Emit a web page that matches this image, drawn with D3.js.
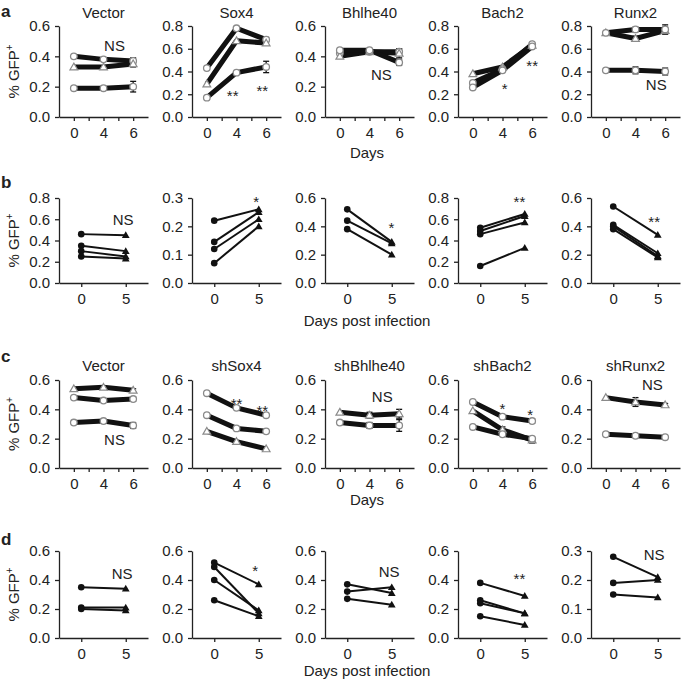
<!DOCTYPE html>
<html><head><meta charset="utf-8">
<script src="https://cdn.jsdelivr.net/npm/d3@7"></script>
<style>
body{margin:0;background:#fff}
svg{display:block}
text{font-family:"Liberation Sans",Arial,Helvetica,sans-serif;fill:#222}
</style>
</head><body>
<svg id="chart" width="685" height="682"></svg>
<script>
// ---------------- DATA ----------------
const daysTime = ["0", "4", "6"];
const daysInfection = ["0", "5"];
const titlesA = ["Vector", "Sox4", "Bhlhe40", "Bach2", "Runx2"];
const titlesC = ["Vector", "shSox4", "shBhlhe40", "shBach2", "shRunx2"];
const yMaxA = [0.6, 0.8, 0.6, 0.8, 0.8];
const yMaxB = [0.8, 0.3, 0.6, 0.8, 0.6];
const yMaxC = [0.6, 0.6, 0.6, 0.6, 0.6];
const yMaxD = [0.6, 0.6, 0.6, 0.6, 0.3];

// row a: overexpression, time course (mean, error)
const aVector  = [{mk:"circle",   v:[0.40,0.38,0.37], e:[0,0,0.02]},
                  {mk:"triangle", v:[0.33,0.33,0.35], e:[0,0,0.02]},
                  {mk:"circle",   v:[0.19,0.19,0.20], e:[0,0,0.035]}];
const aSox4    = [{mk:"circle",   v:[0.43,0.78,0.68], e:[0,0,0.02]},
                  {mk:"triangle", v:[0.29,0.67,0.65], e:[0,0,0.02]},
                  {mk:"circle",   v:[0.17,0.39,0.44], e:[0,0,0.05]}];
const aBhlhe40 = [{mk:"circle",   v:[0.42,0.43,0.43], e:[0,0,0.02]},
                  {mk:"triangle", v:[0.40,0.43,0.42], e:[0,0,0.03]},
                  {mk:"circle",   v:[0.44,0.44,0.36], e:[0,0,0.02]}];
const aBach2   = [{mk:"triangle", v:[0.38,0.44,0.63], e:[0,0,0]},
                  {mk:"circle",   v:[0.30,0.42,0.64], e:[0,0,0]},
                  {mk:"circle",   v:[0.26,0.41,0.62], e:[0,0,0]}];
const aRunx2   = [{mk:"triangle", v:[0.74,0.69,0.76], e:[0,0.02,0.03]},
                  {mk:"circle",   v:[0.74,0.77,0.77], e:[0,0.02,0.04]},
                  {mk:"circle",   v:[0.41,0.41,0.40], e:[0.01,0.03,0.03]}];

// row b: overexpression, day 0 vs day 5 post infection
const bVector  = [[0.46,0.45],[0.35,0.30],[0.30,0.25],[0.25,0.23]];
const bSox4    = [[0.22,0.26],[0.145,0.25],[0.12,0.225],[0.07,0.20]];
const bBhlhe40 = [[0.52,0.29],[0.44,0.28],[0.38,0.20]];
const bBach2   = [[0.52,0.65],[0.49,0.63],[0.46,0.57],[0.16,0.33]];
const bRunx2   = [[0.54,0.34],[0.41,0.21],[0.40,0.19],[0.38,0.18]];

// row c: knockdown, time course
const cVector  = [{mk:"triangle", v:[0.54,0.55,0.53], e:[0,0.01,0.01]},
                  {mk:"circle",   v:[0.48,0.46,0.47], e:[0,0,0.015]},
                  {mk:"circle",   v:[0.31,0.32,0.29], e:[0,0,0.02]}];
const cSox4    = [{mk:"circle",   v:[0.51,0.41,0.36], e:[0,0,0]},
                  {mk:"circle",   v:[0.36,0.27,0.25], e:[0,0,0]},
                  {mk:"triangle", v:[0.25,0.18,0.13], e:[0,0,0]}];
const cBhlhe40 = [{mk:"triangle", v:[0.38,0.36,0.37], e:[0,0.02,0.03]},
                  {mk:"circle",   v:[0.31,0.29,0.29], e:[0,0.02,0.04]}];
const cBach2   = [{mk:"circle",   v:[0.45,0.35,0.32], e:[0,0,0.015]},
                  {mk:"triangle", v:[0.39,0.26,0.19], e:[0,0.02,0.02]},
                  {mk:"circle",   v:[0.28,0.23,0.20], e:[0,0,0]}];
const cRunx2   = [{mk:"triangle", v:[0.48,0.45,0.43], e:[0,0.03,0.01]},
                  {mk:"circle",   v:[0.23,0.22,0.21], e:[0,0,0]}];

// row d: knockdown, day 0 vs day 5 post infection
const dVector  = [[0.35,0.34],[0.21,0.21],[0.20,0.19]];
const dSox4    = [[0.52,0.37],[0.49,0.17],[0.40,0.19],[0.26,0.15]];
const dBhlhe40 = [[0.37,0.31],[0.32,0.35],[0.27,0.23]];
const dBach2   = [[0.38,0.29],[0.26,0.17],[0.24,0.17],[0.15,0.09]];
const dRunx2   = [[0.28,0.21],[0.19,0.20],[0.15,0.14]];

// significance labels: [text, x (category index), y (value at baseline)]
const sigA = [[["NS",1.37,0.435]], [["**",0.87,0.144],["**",1.87,0.188]], [["NS",1.4,0.241]],
              [["*",1.07,0.206],["**",2.0,0.408]], [["NS",1.7,0.234]]];
const sigB = [[["NS",0.94,0.542]], [["*",0.94,0.27]], [["*",0.99,0.356]], [["**",0.88,0.719]], [["**",0.92,0.398]]];
const sigC = [[["NS",1.37,0.154]], [["**",1.0,0.405],["**",1.87,0.357]], [["NS",1.43,0.447]],
              [["*",1.0,0.371],["*",1.93,0.33]], [["NS",1.57,0.529]]];
const sigD = [[["NS",0.92,0.404]], [["*",0.92,0.43]], [["NS",0.94,0.418]], [["**",0.88,0.375]], [["NS",0.92,0.268]]];

// ---------------- LAYOUT ----------------
const svg = d3.select("#chart");
const LEFTS = [59, 192, 325, 458, 591];
const PW = 89;
const FS = 15;

const rows = [
  {letter:"a", letterY:16.5, top:26, bottom:117, cats:daysTime, thick:true,
   data:[aVector,aSox4,aBhlhe40,aBach2,aRunx2], ymax:yMaxA, sig:sigA, titles:titlesA, titleY:17.5,
   xlabel:"Days", xlabelY:157.5},
  {letter:"b", letterY:188, top:198, bottom:283, cats:daysInfection, thick:false,
   data:[bVector,bSox4,bBhlhe40,bBach2,bRunx2], ymax:yMaxB, sig:sigB, titles:null,
   xlabel:"Days post infection", xlabelY:326},
  {letter:"c", letterY:362, top:380, bottom:468, cats:daysTime, thick:true,
   data:[cVector,cSox4,cBhlhe40,cBach2,cRunx2], ymax:yMaxC, sig:sigC, titles:titlesC, titleY:370.5,
   xlabel:"Days", xlabelY:505},
  {letter:"d", letterY:545, top:551, bottom:638, cats:daysInfection, thick:false,
   data:[dVector,dSox4,dBhlhe40,dBach2,dRunx2], ymax:yMaxD, sig:sigD, titles:null,
   xlabel:"Days post infection", xlabelY:676}
];

const tri = d3.symbol().type(d3.symbolTriangle);

rows.forEach(row => {
  svg.append("text").attr("x", 1).attr("y", row.letterY)
    .attr("font-size", 17).attr("font-weight", "bold").attr("fill", "#111").text(row.letter);
  const yl = svg.append("text")
    .attr("transform", `translate(19,${(row.top + row.bottom) / 2}) rotate(-90)`)
    .attr("text-anchor", "middle").attr("font-size", FS);
  yl.append("tspan").text("% GFP");
  yl.append("tspan").attr("font-size", 10).attr("dy", -6).text("+");
  svg.append("text").attr("x", 367).attr("y", row.xlabelY).attr("text-anchor", "middle")
    .attr("font-size", FS).text(row.xlabel);

  const n = row.cats.length;
  row.data.forEach((series, pi) => {
    const left = LEFTS[pi];
    const x = d3.scaleLinear().domain([-0.5, n - 0.5]).range([left, left + PW]);
    const ymax = row.ymax[pi];
    const step = ymax < 0.35 ? 0.1 : 0.2;
    const y = d3.scaleLinear().domain([0, ymax]).range([row.bottom, row.top]);
    const g = svg.append("g");

    const yTicks = d3.range(0, ymax + 1e-9, step);
    const yAxis = d3.axisLeft(y).tickValues(yTicks).tickFormat(d3.format(".1f"))
      .tickSize(4).tickPadding(5).tickSizeOuter(0);
    const xTickVals = n === 3 ? [0, 0.5, 1, 1.5, 2] : [0, 1];
    const xAxis = d3.axisBottom(x).tickValues(xTickVals)
      .tickFormat(d => Number.isInteger(d) ? row.cats[d] : "")
      .tickSize(4).tickPadding(6).tickSizeOuter(0);
    const ya = g.append("g").attr("transform", `translate(${left},0)`).call(yAxis);
    const xa = g.append("g").attr("transform", `translate(0,${row.bottom})`).call(xAxis);
    [ya, xa].forEach(a => {
      a.selectAll("path,line").attr("stroke", "#222").attr("stroke-width", 1.3);
      a.selectAll("text").attr("font-size", FS).attr("fill", "#222")
        .attr("font-family", '"Liberation Sans",Arial,sans-serif');
    });

    if (row.titles) {
      svg.append("text").attr("x", left + PW / 2).attr("y", row.titleY)
        .attr("text-anchor", "middle").attr("font-size", FS).text(row.titles[pi]);
    }

    if (row.thick) {
      const line = d3.line().x((d, i) => x(i)).y(d => y(d));
      series.forEach(s => {
        s.v.forEach((v, i) => {
          if (s.e[i] > 0) {
            const eb = g.append("g").attr("stroke", "#111").attr("stroke-width", 1.3);
            eb.append("line").attr("x1", x(i)).attr("x2", x(i)).attr("y1", y(v - s.e[i])).attr("y2", y(v + s.e[i]));
            eb.append("line").attr("x1", x(i) - 3).attr("x2", x(i) + 3).attr("y1", y(v - s.e[i])).attr("y2", y(v - s.e[i]));
            eb.append("line").attr("x1", x(i) - 3).attr("x2", x(i) + 3).attr("y1", y(v + s.e[i])).attr("y2", y(v + s.e[i]));
          }
        });
      });
      series.forEach(s => {
        g.append("path").datum(s.v).attr("d", line).attr("fill", "none")
          .attr("stroke", "#111").attr("stroke-width", 5).attr("stroke-linejoin", "round");
      });
      series.forEach(s => {
        s.v.forEach((v, i) => {
          if (s.mk === "circle") {
            g.append("circle").attr("cx", x(i)).attr("cy", y(v)).attr("r", 3.3)
              .attr("fill", "#fff").attr("stroke", "#8a8a8a").attr("stroke-width", 1.3);
          } else {
            g.append("path").attr("d", tri.size(26)()).attr("transform", `translate(${x(i)},${y(v) + 0.6})`)
              .attr("fill", "#fff").attr("stroke", "#8a8a8a").attr("stroke-width", 1.2);
          }
        });
      });
    } else {
      const line = d3.line().x((d, i) => x(i)).y(d => y(d));
      series.forEach(s => {
        g.append("path").datum(s).attr("d", line).attr("fill", "none")
          .attr("stroke", "#111").attr("stroke-width", 2);
        g.append("circle").attr("cx", x(0)).attr("cy", y(s[0])).attr("r", 3.3).attr("fill", "#111");
        g.append("path").attr("d", tri.size(26)()).attr("transform", `translate(${x(1)},${y(s[1]) + 0.6})`)
          .attr("fill", "#111");
      });
    }

    row.sig[pi].forEach(([t, xi, yv]) => {
      g.append("text").attr("x", x(xi)).attr("y", y(yv)).attr("text-anchor", "middle")
        .attr("font-size", FS).attr("fill", "#222").text(t);
    });
  });
});
</script>
</body></html>
